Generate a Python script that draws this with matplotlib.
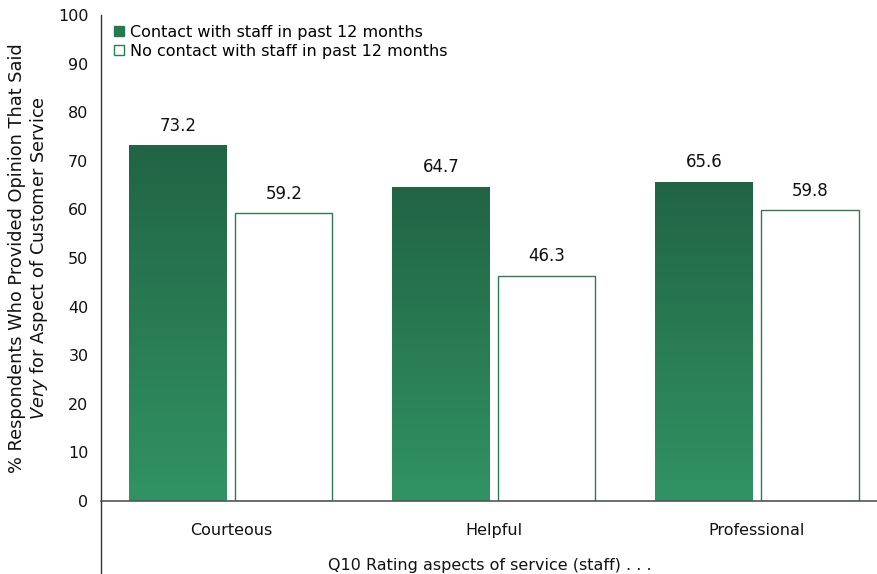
import numpy as np
import matplotlib
matplotlib.use("Agg")
import matplotlib.pyplot as plt
from matplotlib.patches import Patch
from matplotlib.colors import LinearSegmentedColormap

# data
categories = ["Courteous", "Helpful", "Professional"]
contact = [73.2, 64.7, 65.6]
no_contact = [59.2, 46.3, 59.8]
series_names = ["Contact with staff in past 12 months",
                "No contact with staff in past 12 months"]

plt.rcParams['font.family'] = ['DejaVu Sans']
dark_top = "#216445"
dark_bot = "#319363"
edge_green = "#2e7a55"
text_col = "#111111"

fig = plt.figure(figsize=(8.78, 5.74), dpi=100)
ax = fig.add_axes([0.115, 0.127, 0.885, 0.847])

x = np.arange(len(categories))
w = 0.369
off = 0.2015

bars1 = ax.bar(x - off, contact, w, color="none", edgecolor="none", zorder=2)
bars2 = ax.bar(x + off, no_contact, w, color="white", edgecolor=edge_green,
               linewidth=1.0, zorder=2)

# vertical gradient inside each dark bar, dark at its own top
cmap = LinearSegmentedColormap.from_list("grn", [dark_bot, dark_top])
grad = np.linspace(0, 1, 256).reshape(-1, 1)
for b in bars1:
    x0 = b.get_x()
    im = ax.imshow(grad, cmap=cmap, origin="lower", aspect="auto",
                   extent=[x0, x0 + b.get_width(), 0, b.get_height()],
                   zorder=2, interpolation="bicubic")
    im.set_clip_path(b)

for b, v in list(zip(bars1, contact)) + list(zip(bars2, no_contact)):
    ax.text(b.get_x() + b.get_width() / 2, v + 2.2, f"{v:.1f}",
            ha="center", va="bottom", fontsize=12, color=text_col)

ax.set_xlim(-0.494, 2.46)
ax.set_ylim(0, 100)
ax.set_yticks(range(0, 101, 10))
ax.set_xticks(x)
ax.set_xticklabels(categories)
ax.tick_params(axis="both", length=0, labelsize=11.5, colors=text_col)
ax.tick_params(axis="x", pad=16)
ax.tick_params(axis="y", pad=9)

for s in ["top", "right"]:
    ax.spines[s].set_visible(False)
ax.spines["left"].set_color("#333333")
ax.spines["bottom"].set_color("#555555")
ax.spines["left"].set_linewidth(1.0)
ax.spines["bottom"].set_linewidth(1.2)
# left axis line continues down past the category labels
ax.plot([0, 0], [0, -0.16], transform=ax.transAxes, clip_on=False,
        color="#333333", lw=1.0)

ax.set_xlabel("Q10 Rating aspects of service (staff) . . .", fontsize=11.5,
              color=text_col, labelpad=14)
ax.set_ylabel("% Respondents Who Provided Opinion That Said\n"
              r"$\it{Very}$ for Aspect of Customer Service",
              fontsize=12.8, color=text_col, labelpad=6, linespacing=1.1)

handles = [Patch(facecolor="#237a4e", edgecolor="#237a4e"),
           Patch(facecolor="white", edgecolor=edge_green)]
ax.legend(handles, series_names, loc="upper left", bbox_to_anchor=(0.005, 1.0),
          frameon=False, fontsize=11.5, handlelength=0.6, handleheight=0.6,
          handletextpad=0.4, labelspacing=0.25, borderaxespad=0.2)

fig.savefig("out.png", dpi=100)
